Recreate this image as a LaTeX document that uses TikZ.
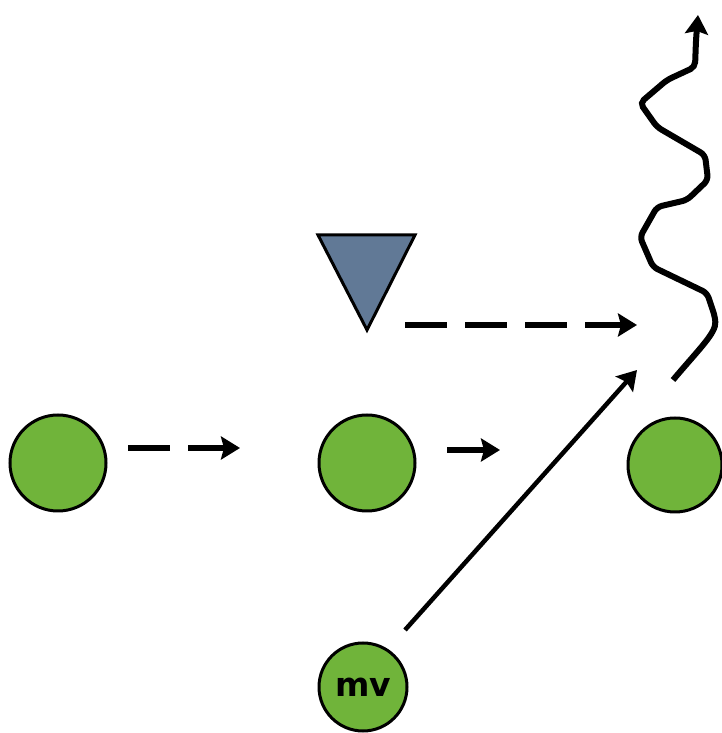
\documentclass[tikz,border=0pt]{standalone}
\usepackage{fontspec}
\setmainfont{DejaVu Sans}
\usetikzlibrary{arrows.meta}
\definecolor{playergreen}{RGB}{112,180,58}
\definecolor{defenderblue}{RGB}{97,121,150}
\begin{document}
\begin{tikzpicture}[x=1pt, y=1pt,
player/.style={circle, draw=black, line width=3pt, fill=playergreen, minimum size=96pt, inner sep=0pt,
  font=\fontsize{33}{38}\selectfont\bfseries},
defender/.style={draw=black, line width=3pt, fill=defenderblue, line join=miter},
move/.style={line width=5.5pt, -{Stealth[length=19pt, width=23pt, inset=3pt]}},
dashmove/.style={move, dash pattern=on 42pt off 18pt},
route/.style={move, line width=6pt, rounded corners=5pt}]
\useasboundingbox (0,0) rectangle (721,733);
\node[player] (p1) at (58,270) {};
\node[player] (p2) at (367,270) {};
\node[player, minimum size=94pt] (p3) at (675,268) {};
\node[player, minimum size=88pt] (mv) at (363,46) {mv};
\draw[defender] (318,498) coordinate (dl) -- (415,498) coordinate (dr) -- (367,403) coordinate (dv) -- cycle;
\coordinate (p1a) at (128,285);
\coordinate (p1b) at (240,285);
\coordinate (p2a) at (447,283);
\coordinate (p2b) at (500,283);
\coordinate (da) at (405,408);
\coordinate (db) at (637,408);
\coordinate (mva) at (405,103);
\coordinate (mvb) at (637,363);
\coordinate (ws) at (673,353);
\coordinate (we) at (698,718);
\draw[dashmove] (p1a) -- (p1b);
\draw[move] (p2a) -- (p2b);
\draw[dashmove] (da) -- (db);
\draw[move, line width=4.5pt] (mva) -- (mvb);
\draw[route] (ws) .. controls (700,385) and (716,400) .. (715,416)
  -- (707,440) -- (653,466) -- (640,496) -- (657,526) -- (687,533) -- (708,553)
  -- (705,578) -- (657,606) -- (640,630) -- (667,653) -- (695,666) -- (696,693) -- (we);
\end{tikzpicture}
\end{document}
